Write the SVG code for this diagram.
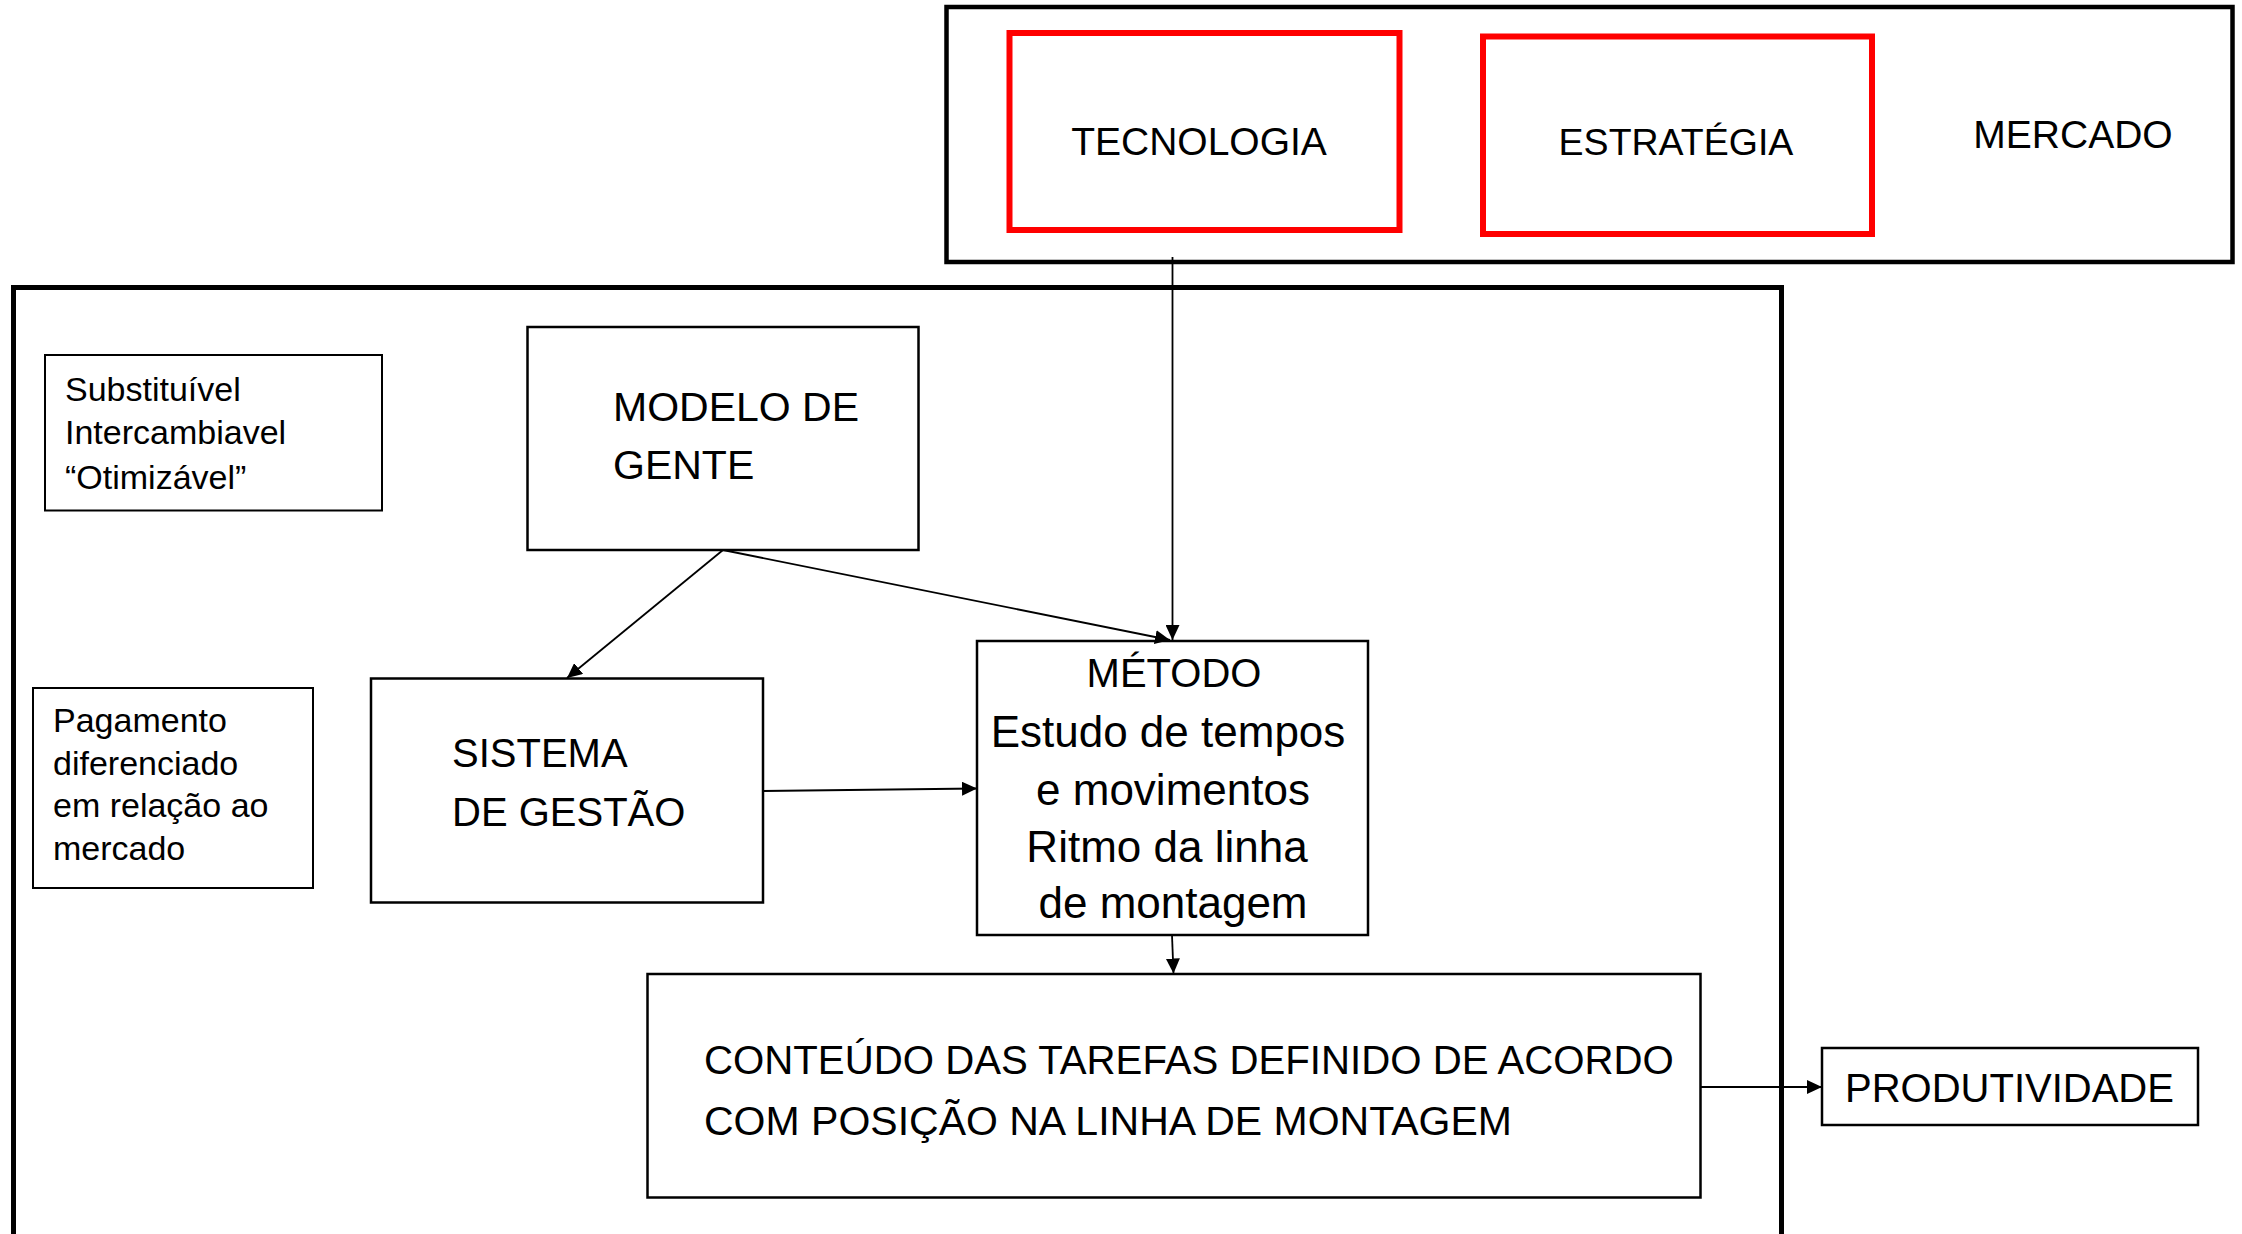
<svg xmlns="http://www.w3.org/2000/svg" width="2242" height="1234" viewBox="0 0 2242 1234">
<style>
text{font-family:"Liberation Sans",Arial,sans-serif;fill:#000}
.box{fill:#fff;stroke:#000;stroke-width:2.5}
.sm{fill:#fff;stroke:#000;stroke-width:2}
.red{fill:#fff;stroke:#ff0000;stroke-width:6}
.frame{fill:none;stroke:#000}
.conn{stroke:#000;stroke-width:1.8;fill:none;marker-end:url(#ah)}
.mid{text-anchor:middle}
</style>
<defs>
<marker id="ah" markerUnits="userSpaceOnUse" markerWidth="16" markerHeight="14" refX="15" refY="7" orient="auto">
<path d="M0,0 L15,7 L0,14 z" fill="#000"/>
</marker>
</defs>
<rect width="2242" height="1234" fill="#fff"/>
<g id="env">
<rect class="frame" x="946.5" y="7" width="1286" height="255" stroke-width="4.5"/>
</g>
<g id="org">
<rect class="frame" x="13.5" y="287.5" width="1768" height="1000" stroke-width="5"/>
</g>
<g id="tecnologia">
<rect class="red" x="1009.5" y="33" width="390" height="197"/>
<text class="mid" x="1199" y="155" font-size="39">TECNOLOGIA</text>
</g>
<g id="estrategia">
<rect class="red" x="1483" y="36.5" width="389" height="197.5"/>
<text class="mid" x="1676" y="155" font-size="37.5">ESTRATÉGIA</text>
</g>
<g id="mercado">
<text class="mid" x="2073" y="148" font-size="39">MERCADO</text>
</g>
<g id="substituivel">
<rect class="sm" x="45" y="355" width="337" height="155.5"/>
<text x="65" y="401" font-size="34">Substituível</text>
<text x="65" y="444" font-size="34">Intercambiavel</text>
<text x="65" y="489" font-size="34">“Otimizável”</text>
</g>
<g id="pagamento">
<rect class="sm" x="33" y="688" width="280" height="200"/>
<text x="53" y="732" font-size="34">Pagamento</text>
<text x="53" y="775" font-size="34">diferenciado</text>
<text x="53" y="817" font-size="34">em relação ao</text>
<text x="53" y="860" font-size="34">mercado</text>
</g>
<g id="modelo">
<rect class="box" x="527.5" y="327" width="391" height="223"/>
<text x="613" y="421" font-size="41">MODELO DE</text>
<text x="613" y="479" font-size="41">GENTE</text>
</g>
<g id="sistema">
<rect class="box" x="371" y="678.5" width="392" height="224"/>
<text x="452" y="767" font-size="40">SISTEMA</text>
<text x="452" y="826" font-size="40">DE GESTÃO</text>
</g>
<g id="metodo">
<rect class="box" x="977" y="641" width="391" height="294"/>
<text class="mid" x="1174" y="687" font-size="40">MÉTODO</text>
<text class="mid" x="1168" y="747" font-size="44">Estudo de tempos</text>
<text class="mid" x="1173" y="805" font-size="44">e movimentos</text>
<text class="mid" x="1167" y="862" font-size="44">Ritmo da linha</text>
<text class="mid" x="1173" y="918" font-size="44">de montagem</text>
</g>
<g id="conteudo">
<rect class="box" x="647.5" y="974" width="1053" height="223.5"/>
<text x="704" y="1074" font-size="40.2">CONTEÚDO DAS TAREFAS DEFINIDO DE ACORDO</text>
<text x="704" y="1135" font-size="41">COM POSIÇÃO NA LINHA DE MONTAGEM</text>
</g>
<g id="produtividade">
<rect class="box" x="1822" y="1048" width="376" height="77"/>
<text x="1845" y="1102" font-size="40">PRODUTIVIDADE</text>
</g>
<g id="connectors">
<line class="conn" x1="1172.5" y1="257" x2="1172.5" y2="640"/>
<line class="conn" x1="723" y1="550" x2="1170" y2="640"/>
<line class="conn" x1="723" y1="550" x2="567" y2="678"/>
<line class="conn" x1="763" y1="791" x2="977" y2="788.5"/>
<line class="conn" x1="1172" y1="935" x2="1173.5" y2="973.5"/>
<line class="conn" x1="1700" y1="1087" x2="1822" y2="1087"/>
</g>
</svg>
